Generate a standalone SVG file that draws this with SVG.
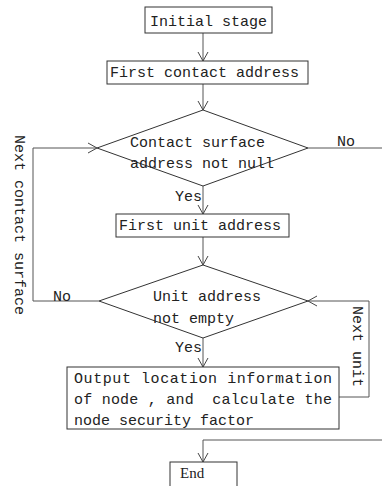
<svg xmlns="http://www.w3.org/2000/svg" width="382" height="486" viewBox="0 0 382 486">
<style>
.box{fill:#fff;stroke:#333;stroke-width:1}
.ln{fill:none;stroke:#555;stroke-width:1}
text{font-family:"Liberation Mono","DejaVu Sans Mono",monospace;font-size:15px;fill:#222}
.serif{font-family:"Liberation Serif",serif}
</style>
<defs>
<marker id="ah" viewBox="-10 -6 12 12" refX="0" refY="0" markerWidth="12" markerHeight="12" markerUnits="userSpaceOnUse" orient="auto">
<polyline points="-9,-5 0,0 -9,5" fill="none" stroke="#444" stroke-width="1"/>
</marker>
</defs>
<rect width="382" height="486" fill="#fff"/>
<g id="connectors">
<line class="ln" x1="203" y1="33" x2="203" y2="61" marker-end="url(#ah)"/>
<line class="ln" x1="203" y1="84" x2="203" y2="110" marker-end="url(#ah)"/>
<line class="ln" x1="308" y1="148" x2="382" y2="148"/>
<line class="ln" x1="203" y1="186" x2="203" y2="214" marker-end="url(#ah)"/>
<line class="ln" x1="203" y1="237" x2="203" y2="265" marker-end="url(#ah)"/>
<polyline class="ln" points="99,301 33,301 33,148 97,148" marker-end="url(#ah)"/>
<line class="ln" x1="203" y1="338" x2="203" y2="367" marker-end="url(#ah)"/>
<polyline class="ln" points="339,397 369,397 369,301 308,301" marker-end="url(#ah)"/>
<polyline class="ln" points="382,440 203,440 203,462" marker-end="url(#ah)"/>
<text x="337" y="146">No</text>
<text x="175" y="201">Yes</text>
<text x="53" y="301">No</text>
<text x="175" y="352">Yes</text>
<text transform="translate(15,135) rotate(90)">Next contact surface</text>
<text transform="translate(353,306) rotate(90)">Next unit</text>
</g>
<g id="initial">
<rect class="box" x="145" y="7" width="127" height="26"/>
<text x="150" y="26">Initial stage</text>
</g>
<g id="first-contact">
<rect class="box" x="107" y="61" width="201" height="23"/>
<text x="110" y="77">First contact address</text>
</g>
<g id="contact-check">
<polygon class="box" points="203,110 308,148 203,186 97,148"/>
<text x="130" y="147">Contact surface</text>
<text x="130" y="168">address not null</text>
</g>
<g id="first-unit">
<rect class="box" x="116" y="214" width="173" height="23"/>
<text x="119" y="230">First unit address</text>
</g>
<g id="unit-check">
<polygon class="box" points="203,265 308,301 203,338 99,301"/>
<text x="153" y="301">Unit address</text>
<text x="153" y="323">not empty</text>
</g>
<g id="output">
<rect class="box" x="67" y="367" width="272" height="62"/>
<text x="74" y="383" textLength="258" lengthAdjust="spacing">Output location information</text>
<text x="74" y="404" textLength="258" lengthAdjust="spacing" xml:space="preserve">of node , and  calculate the</text>
<text x="74" y="425">node security factor</text>
</g>
<g id="end">
<rect class="box" x="170" y="462" width="67" height="30"/>
<text class="serif" x="180" y="478">End</text>
</g>
</svg>
